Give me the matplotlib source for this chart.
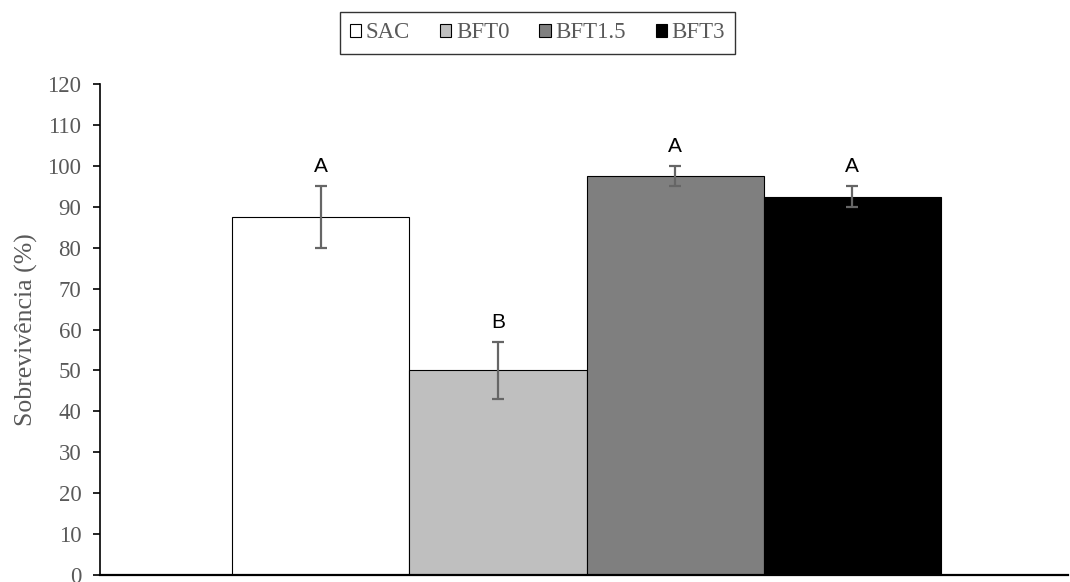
import matplotlib
matplotlib.use("Agg")
import matplotlib.pyplot as plt

groups = ["SAC", "BFT0", "BFT1.5", "BFT3"]
survival = [87.5, 50.0, 97.5, 92.5]
errors = [7.5, 7.0, 2.5, 2.5]
letters = ["A", "B", "A", "A"]
colors = ["#ffffff", "#bfbfbf", "#7f7f7f", "#000000"]
yticks = list(range(0, 121, 10))

plt.rcParams["font.family"] = ["Liberation Serif", "DejaVu Serif"]
grey = "#595959"

fig = plt.figure(figsize=(10.7, 5.82), dpi=100)
ax = fig.add_axes([100 / 1070, 1 - 575 / 582, 968 / 1070, 491 / 582])

handles = []
for i, (g, v, e, c) in enumerate(zip(groups, survival, errors, colors)):
    b = ax.bar(i, v, width=1.0, color=c, edgecolor="#000000", linewidth=0.8,
               label=g, zorder=2)
    handles.append(b)
    ax.errorbar(i, v, yerr=e, fmt="none", ecolor="#666666", elinewidth=1.6,
                capsize=4.5, capthick=1.6, zorder=3)
    ax.text(i, v + e + 2.5, letters[i], ha="center", va="bottom", fontsize=15,
            family=["Liberation Sans", "DejaVu Sans"], color="#000000")

ax.set_xlim(-1.246, 4.217)
ax.set_ylim(0, 120)
ax.set_yticks(yticks)
ax.set_xticks([])
ax.tick_params(axis="y", labelsize=16.5, labelcolor=grey, length=5, width=1.2,
               direction="out", pad=8.5)
for s in ["top", "right"]:
    ax.spines[s].set_visible(False)
ax.spines["left"].set_linewidth(1.2)
ax.spines["bottom"].set_linewidth(1.6)
ax.set_ylabel("Sobrevivência (%)", fontsize=18.5, color=grey, labelpad=7)

leg = fig.legend(handles=handles, labels=groups, loc="center",
                 bbox_to_anchor=(537.5 / 1070, 1 - 33 / 582), ncol=4,
                 fontsize=16.5, frameon=True, fancybox=False,
                 handlelength=0.5, handleheight=0.5, handletextpad=0.2,
                 columnspacing=1.3, borderpad=0.45)
leg.get_frame().set_edgecolor("#000000")
leg.get_frame().set_linewidth(1.0)
for t in leg.get_texts():
    t.set_color(grey)

fig.savefig("out.png", dpi=100)
